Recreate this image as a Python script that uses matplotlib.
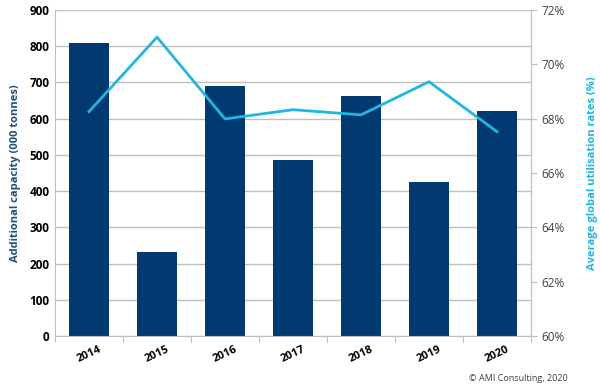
import numpy as np
import matplotlib.pyplot as plt

# --- data ---
years = ['2014', '2015', '2016', '2017', '2018', '2019', '2020']
capacity = [808, 231, 690, 486, 663, 426, 622]              # 000 tonnes
utilisation = [68.26, 71.0, 67.99, 68.33, 68.14, 69.36, 67.52]  # %

navy = '#003A70'
cyan = '#1FB6E3'
grey = '#BFBFBF'

plt.rcParams['font.family'] = ['Open Sans', 'DejaVu Sans']

fig = plt.figure(figsize=(6, 3.92), dpi=100)
ax = fig.add_axes([0.0917, 0.1429, 0.7933, 0.8316])
x = np.arange(len(years))

ax.bar(x, capacity, width=0.58, color=navy, zorder=2)
ax.set_ylim(0, 900)
ax.set_yticks(range(0, 901, 100))
ax.set_xlim(-0.5, len(years) - 0.5)
ax.yaxis.grid(True, color=grey, linewidth=1, zorder=0)
ax.set_axisbelow(True)

# x ticks sit on category boundaries, labels centred under bars
ax.set_xticks(np.arange(-0.5, len(years), 1))
ax.set_xticklabels([])
ax.set_xticks(x, minor=True)
ax.set_xticklabels(years, minor=True, rotation=25, fontsize=8, fontweight='bold')
ax.tick_params(axis='x', which='major', length=4, color=grey)
ax.tick_params(axis='x', which='minor', length=0, pad=6)
ax.tick_params(axis='y', length=0, labelsize=8.5, pad=4)
for lab in ax.get_yticklabels():
    lab.set_fontweight('bold')

ax.spines['top'].set_visible(False)
for s in ['left', 'bottom', 'right']:
    ax.spines[s].set_color(grey)

ax.set_ylabel('Additional capacity (000 tonnes)', color='#1F4E79',
              fontsize=8, fontweight='bold', labelpad=6)

ax2 = ax.twinx()
ax2.plot(x, utilisation, color=cyan, linewidth=2, zorder=3)
ax2.set_ylim(60, 72)
ax2.set_yticks(range(60, 73, 2))
ax2.set_yticklabels([f'{v}%' for v in range(60, 73, 2)])
ax2.tick_params(axis='y', length=4, color=grey, labelsize=8.5, labelcolor='#404040')
for s in ['top', 'left', 'bottom']:
    ax2.spines[s].set_visible(False)
ax2.spines['right'].set_color(grey)
ax2.set_ylabel('Average global utilisation rates (%)', color=cyan,
               fontsize=8, fontweight='bold', labelpad=16)

fig.text(0.947, 0.022, '\u00a9 AMI Consulting, 2020', ha='right', va='bottom',
         fontsize=6.5, color='#404040')

fig.savefig('out.png', dpi=100)
